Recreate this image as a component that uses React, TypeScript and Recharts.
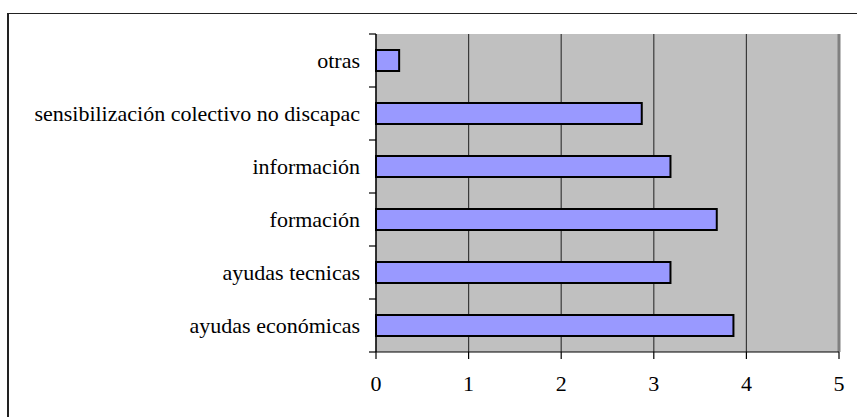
import React from 'react';
import { BarChart, Bar, XAxis, YAxis, CartesianGrid, ReferenceLine } from 'recharts';

const categories = [
  'otras',
  'sensibilización colectivo no discapac',
  'información',
  'formación',
  'ayudas tecnicas',
  'ayudas económicas',
];
const values = [0.25, 2.87, 3.18, 3.68, 3.18, 3.86];
const xTicks = [0, 1, 2, 3, 4, 5];

const data = categories.map((name, i) => ({ name, value: values[i] }));

const FONT = "'Liberation Serif', 'DejaVu Serif', serif";
const BAND = 318 / categories.length;

const CategoryTick = (props: any) => {
  const { x, y, payload, index } = props;
  const last = index === categories.length - 1;
  return (
    <g>
      <text x={x} y={y} dy="0.35em" textAnchor="end" style={{ fontFamily: FONT, fontSize: 22 }} fill="#000">
        {payload.value}
      </text>
      <line x1={x + 9} x2={x + 16} y1={y - BAND / 2} y2={y - BAND / 2} stroke="#000" strokeWidth={1.2} />
      {last && (
        <line x1={x + 9} x2={x + 16} y1={y + BAND / 2} y2={y + BAND / 2} stroke="#000" strokeWidth={1.2} />
      )}
    </g>
  );
};

const NumberTick = (props: any) => {
  const { x, y, payload } = props;
  return (
    <text x={x} y={y} dy="0.71em" textAnchor="middle" style={{ fontFamily: FONT, fontSize: 22 }} fill="#000">
      {payload.value}
    </text>
  );
};

export default function App() {
  return (
    <div style={{ position: 'fixed', left: 0, top: 0, width: 857, height: 417, overflow: 'hidden', background: '#fff', fontFamily: FONT }}>
      <div
        style={{
          position: 'absolute',
          left: 7,
          top: 13,
          width: 900,
          height: 450,
          borderLeft: '2px solid #222',
          borderTop: '1.5px solid #222',
        }}
      />
      <div style={{ position: 'absolute', left: 0, top: 0 }}>
        <BarChart
          width={857}
          height={417}
          data={data}
          layout="vertical"
          margin={{ top: 34, right: 18, bottom: 0, left: 0 }}
          style={{ fontFamily: FONT }}
        >
          <CartesianGrid horizontal={false} vertical fill="#c0c0c0" stroke="#3a3a3a" strokeWidth={1.2} />
          <XAxis
            type="number"
            domain={[0, 5]}
            ticks={xTicks}
            interval={0}
            height={65}
            tickSize={7}
            tickMargin={16}
            axisLine={{ stroke: '#000', strokeWidth: 1.2 }}
            tickLine={{ stroke: '#000', strokeWidth: 1.2 }}
            tick={<NumberTick />}
          />
          <XAxis
            xAxisId="top"
            orientation="top"
            type="number"
            domain={[0, 5]}
            height={0}
            tick={false}
            tickLine={false}
            axisLine={{ stroke: '#808080', strokeWidth: 2 }}
          />
          <YAxis
            type="category"
            dataKey="name"
            width={376}
            interval={0}
            tickSize={8}
            tickMargin={8}
            tickLine={false}
            axisLine={{ stroke: '#000', strokeWidth: 1.2 }}
            tick={<CategoryTick />}
          />
          <ReferenceLine x={5} stroke="#808080" strokeWidth={3} />
          <Bar
            dataKey="value"
            fill="#9999ff"
            stroke="#000"
            strokeWidth={2}
            barSize={21}
            isAnimationActive={false}
          />
        </BarChart>
      </div>
    </div>
  );
}
